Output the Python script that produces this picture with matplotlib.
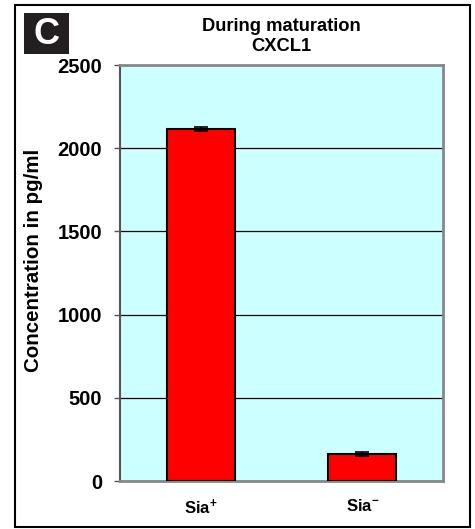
import matplotlib
matplotlib.use('Agg')
from matplotlib import pyplot as plt
from matplotlib.patches import Rectangle

categories = ['Sia$^{+}$', 'Sia$^{-}$']
values = [2115, 160]
errors = [10, 12]
yticks = [0, 500, 1000, 1500, 2000, 2500]

plt.rcParams['font.family'] = ['Liberation Sans', 'DejaVu Sans']
plt.rcParams['font.weight'] = 'bold'
plt.rcParams['mathtext.fontset'] = 'custom'
plt.rcParams['mathtext.rm'] = 'Liberation Sans:bold'
plt.rcParams['mathtext.default'] = 'rm'

fig = plt.figure(dpi=100, figsize=(4.75, 5.29))
ax = fig.add_axes([0.2526, 0.0907, 0.68, 0.7864])
ax.set_facecolor('#CCFFFF')

x = range(len(categories))
ax.bar(x, values, width=0.42, color='#FF0000', edgecolor='black', linewidth=1.5,
       yerr=errors, capsize=5, error_kw={'elinewidth': 1.2, 'capthick': 1.2, 'ecolor': 'black'},
       zorder=3)

ax.set_xlim(-0.5, 1.5)
ax.set_ylim(0, 2500)
ax.set_yticks(yticks)
ax.yaxis.grid(True, color='black', linewidth=0.9, zorder=1)
ax.set_axisbelow(True)
ax.set_xticks(list(x))
ax.set_xticklabels(categories, fontsize=12)
ax.tick_params(axis='x', length=0, pad=12)
ax.tick_params(axis='y', length=4.3, width=1, color='#555555', labelsize=14.5, pad=8.6)
for lab in ax.get_yticklabels() + ax.get_xticklabels():
    lab.set_fontweight('bold')

for side in ['top', 'right', 'bottom']:
    ax.spines[side].set_color('#888888')
    ax.spines[side].set_linewidth(2)
ax.spines['left'].set_color('#555555')
ax.spines['left'].set_linewidth(1.5)

ax.set_ylabel('Concentration in pg/ml', fontsize=14.8, fontweight='bold')
ax.yaxis.set_label_coords(-0.238, 0.53)

fig.text(281 / 475, 1 - 36.5 / 529, 'During maturation\nCXCL1', fontsize=13.2,
         fontweight='bold', ha='center', va='center', linespacing=1.2)

# outer frame
fig.patches.append(Rectangle((15 / 475, 1 - 527 / 529), 455 / 475, 522 / 529,
                             transform=fig.transFigure, fill=False,
                             edgecolor='black', linewidth=1.5))
# panel letter
fig.patches.append(Rectangle((24 / 475, 1 - 54 / 529), 45 / 475, 41 / 529,
                             transform=fig.transFigure, facecolor='#231F20',
                             edgecolor='none'))
fig.text(46.5 / 475, 1 - 34 / 529, 'C', color='white', fontsize=26,
         fontweight='bold', ha='center', va='center')

fig.savefig('out.png', dpi=100)
